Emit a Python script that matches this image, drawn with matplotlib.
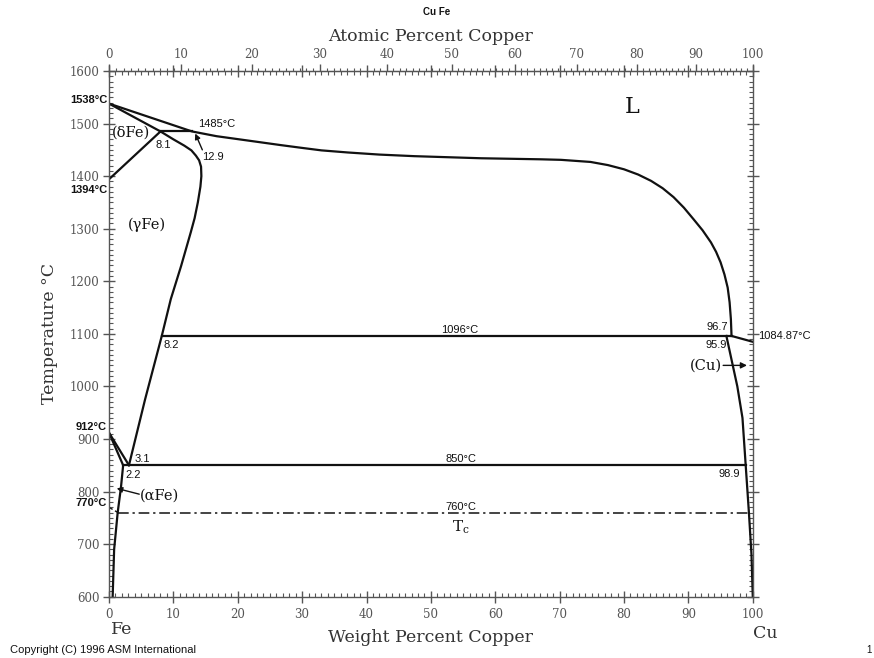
"""
Cu-Fe binary phase diagram (ASM style), weight % Cu on the bottom,
atomic % Cu on the top.
"""
import matplotlib
matplotlib.use("Agg")
import matplotlib.pyplot as plt
from matplotlib.ticker import MultipleLocator
import numpy as np

INK = "#111111"
AXC = "#555555"
SERIF = "DejaVu Serif"
SANS = "Liberation Sans"

M_CU = 63.546
M_FE = 55.845

# ---- boundaries, (wt% Cu, degC) ----
liq_wt = [0, 12.9, 16.7, 22.0, 26.7, 29.8, 33.0, 37.1, 42.0, 47.4, 57.8,
          67.1, 70.2, 74.8, 77.5, 80.0, 82.2, 84.2, 86.0, 87.7, 89.3, 90.8,
          92.2, 93.5, 94.3, 95.0, 95.6, 96.1, 96.4, 96.6, 96.7]
liq_T = [1538, 1485, 1476, 1467, 1459, 1454, 1449, 1445, 1441, 1438, 1434,
         1432, 1431, 1427, 1421, 1413, 1403, 1391, 1377, 1360, 1340, 1318,
         1297, 1274, 1256, 1236, 1213, 1188, 1160, 1128, 1096]

cu_liq_wt = [96.7, 100]
cu_liq_T = [1096, 1084.87]

delta_sol_wt = [0, 8.0]
delta_sol_T = [1538, 1485]
delta_gam_wt = [0, 8.0]
delta_gam_T = [1394, 1485]

peri_wt = [8.0, 12.9]
peri_T = [1485, 1485]

gam_wt = [8.0, 10.0, 11.7, 12.8, 13.5, 14.0, 14.3, 14.35, 14.2, 13.8,
          13.3, 12.7, 11.2, 9.6, 8.2, 5.6, 3.1]
gam_T = [1485, 1470, 1458, 1449, 1439, 1430, 1418, 1400, 1380, 1350,
         1320, 1293, 1229, 1166, 1096, 975, 850]

mono_wt = [8.2, 96.7]
mono_T = [1096, 1096]

eut_wt = [2.2, 98.9]
eut_T = [850, 850]

ag_gam_wt = [0, 3.1]
ag_gam_T = [912, 850]
ag_alp_wt = [0, 2.2]
ag_alp_T = [912, 850]

alpha_wt = [2.2, 1.86, 1.35, 0.8, 0.57]
alpha_T = [850, 808, 760, 690, 600]

cu_solv_wt = [95.9, 97.6, 98.4, 98.9, 99.4, 99.8, 100]
cu_solv_T = [1096, 1000, 940, 850, 760, 680, 600]

mag_wt = [0, 1.4]
mag_T = [770, 760]
tc_wt = [1.4, 99.3]
tc_T = [760, 760]


def wt_to_at(w):
    w = np.asarray(w, dtype=float)
    a = w / M_CU
    b = (100 - w) / M_FE
    return 100 * a / (a + b)


def at_to_wt(a):
    a = np.asarray(a, dtype=float)
    x = a * M_CU
    y = (100 - a) * M_FE
    return 100 * x / (x + y)


fig = plt.figure(figsize=(8.74, 6.58), dpi=100, facecolor="white")
ax = fig.add_axes([0.1247, 0.0932, 0.8613 - 0.1247, 0.8921 - 0.0932])

lw = 1.6
curves = [(liq_wt, liq_T), (cu_liq_wt, cu_liq_T),
          (delta_sol_wt, delta_sol_T), (delta_gam_wt, delta_gam_T),
          (peri_wt, peri_T), (gam_wt, gam_T), (mono_wt, mono_T),
          (eut_wt, eut_T), (ag_gam_wt, ag_gam_T), (ag_alp_wt, ag_alp_T),
          (alpha_wt, alpha_T), (cu_solv_wt, cu_solv_T)]
for xs, ys in curves:
    ax.plot(xs, ys, color=INK, lw=lw, solid_joinstyle="round")
ax.plot(mag_wt, mag_T, color=INK, lw=1.0, ls=(0, (3, 2)))
ax.plot(tc_wt, tc_T, color=INK, lw=1.1, ls=(0, (7, 2.5, 1.5, 2.5)))

ax.set_xlim(0, 100)
ax.set_ylim(600, 1600)

# ---- axes styling ----
for s in ax.spines.values():
    s.set_color(AXC)
    s.set_linewidth(1.0)
ax.xaxis.set_major_locator(MultipleLocator(10))
ax.xaxis.set_minor_locator(MultipleLocator(1))
ax.yaxis.set_major_locator(MultipleLocator(100))
ax.yaxis.set_minor_locator(MultipleLocator(10))
ax.tick_params(which="major", direction="inout", length=8, width=1,
               color=AXC, labelcolor="#555555", labelsize=8.5,
               top=True, right=True, labelright=False, labeltop=False)
ax.tick_params(which="minor", direction="in", length=3, width=0.8,
               color=AXC, top=True, right=True)
for lab in ax.get_xticklabels() + ax.get_yticklabels():
    lab.set_fontfamily(SERIF)
ax.tick_params(axis="x", pad=4)
ax.tick_params(axis="y", pad=3)

sec = ax.secondary_xaxis("top", functions=(wt_to_at, at_to_wt))
sec.xaxis.set_major_locator(MultipleLocator(10))
sec.xaxis.set_minor_locator(MultipleLocator(1))
sec.tick_params(which="major", direction="out", length=5, width=1,
                color=AXC, labelcolor="#555555", labelsize=8.5, pad=2)
sec.tick_params(which="minor", direction="out", length=2.5, width=0.8,
                color=AXC)
for lab in sec.get_xticklabels():
    lab.set_fontfamily(SERIF)
sec.spines["top"].set_color(AXC)
sec.set_xlabel("Atomic Percent Copper", fontfamily=SERIF, fontsize=12.5,
               color="#333333", labelpad=5)

ax.set_xlabel("Weight Percent Copper", fontfamily=SERIF, fontsize=12.5,
              color="#333333", labelpad=6)
ax.set_ylabel("Temperature \u00b0C", fontfamily=SERIF, fontsize=12.5,
              color="#333333", labelpad=8)

# ---- annotations ----
lab_kw = dict(fontfamily=SANS, fontsize=8, color=INK)
ax.text(-0.3, 1545, "1538\u00b0C", ha="right", va="center",
        fontweight="bold", clip_on=False, **lab_kw)
ax.text(-0.3, 1374, "1394\u00b0C", ha="right", va="center",
        fontweight="bold", clip_on=False, **lab_kw)
ax.text(-0.3, 923, "912\u00b0C", ha="right", va="center",
        fontweight="bold", clip_on=False, **lab_kw)
ax.text(-0.3, 778, "770\u00b0C", ha="right", va="center",
        fontweight="bold", clip_on=False, **lab_kw)

ax.text(13.8, 1499, "1485\u00b0C", ha="left", va="center", **lab_kw)
ax.text(7.2, 1459, "8.1", ha="left", va="center", **lab_kw)
ax.text(14.4, 1437, "12.9", ha="left", va="center", **lab_kw)
ax.annotate("", xy=(13.4, 1481), xytext=(14.5, 1450),
            arrowprops=dict(arrowstyle="-|>", color=INK, lw=1.0,
                            mutation_scale=8, shrinkA=0, shrinkB=0))

ax.text(8.4, 1079, "8.2", ha="left", va="center", **lab_kw)
ax.text(54.5, 1098, "1096\u00b0C", ha="center", va="bottom", **lab_kw)
ax.text(96.2, 1113, "96.7", ha="right", va="center", **lab_kw)
ax.text(95.9, 1079, "95.9", ha="right", va="center", **lab_kw)
ax.text(100.9, 1096, "1084.87\u00b0C", ha="left", va="center",
        clip_on=False, **lab_kw)

ax.text(4.0, 862, "3.1", ha="left", va="center", **lab_kw)
ax.text(2.6, 831, "2.2", ha="left", va="center", **lab_kw)
ax.text(54.7, 852, "850\u00b0C", ha="center", va="bottom", **lab_kw)
ax.text(98.0, 833, "98.9", ha="right", va="center", **lab_kw)
ax.text(54.7, 762, "760\u00b0C", ha="center", va="bottom", **lab_kw)
ax.text(54.7, 733, r"T$_\mathregular{c}$", ha="center", va="center",
        fontfamily=SERIF, fontsize=11, color=INK)

ph_kw = dict(fontfamily=SERIF, fontsize=10.5, color=INK)
ax.text(0.4, 1482, "(\u03b4Fe)", ha="left", va="center", **ph_kw)
ax.text(2.95, 1307, "(\u03b3Fe)", ha="left", va="center", **ph_kw)
ax.text(4.8, 793, "(\u03b1Fe)", ha="left", va="center", **ph_kw)
ax.annotate("", xy=(1.2, 806), xytext=(4.7, 795),
            arrowprops=dict(arrowstyle="-|>", color=INK, lw=1.0,
                            mutation_scale=8, shrinkA=0, shrinkB=0))
ax.text(95.2, 1039, "(Cu)", ha="right", va="center", **ph_kw)
ax.annotate("", xy=(99.1, 1040), xytext=(95.4, 1040),
            arrowprops=dict(arrowstyle="-|>", color=INK, lw=1.0,
                            mutation_scale=9, shrinkA=0, shrinkB=0))
ax.text(81.2, 1531, "L", ha="center", va="center", fontfamily=SERIF,
        fontsize=16, color=INK)

# ---- figure texts ----
fig.text(437 / 874, 1 - 12 / 658, "Cu Fe", ha="center", va="center",
         fontfamily=SANS, fontsize=7, fontweight="bold", color=INK)
fig.text(121.7 / 874, 1 - 630 / 658, "Fe", ha="center", va="center",
         fontfamily=SERIF, fontsize=12.5, color="#333333")
fig.text(765 / 874, 1 - 633 / 658, "Cu", ha="center", va="center",
         fontfamily=SERIF, fontsize=12.5, color="#333333")
fig.text(10 / 874, 1 - 650 / 658, "Copyright (C) 1996 ASM International",
         ha="left", va="center", fontfamily=SANS, fontsize=8, color=INK)
fig.text(869 / 874, 1 - 650 / 658, "1", ha="center", va="center",
         fontfamily=SANS, fontsize=7, color=INK)

fig.savefig("out.png", dpi=100, facecolor="white")
